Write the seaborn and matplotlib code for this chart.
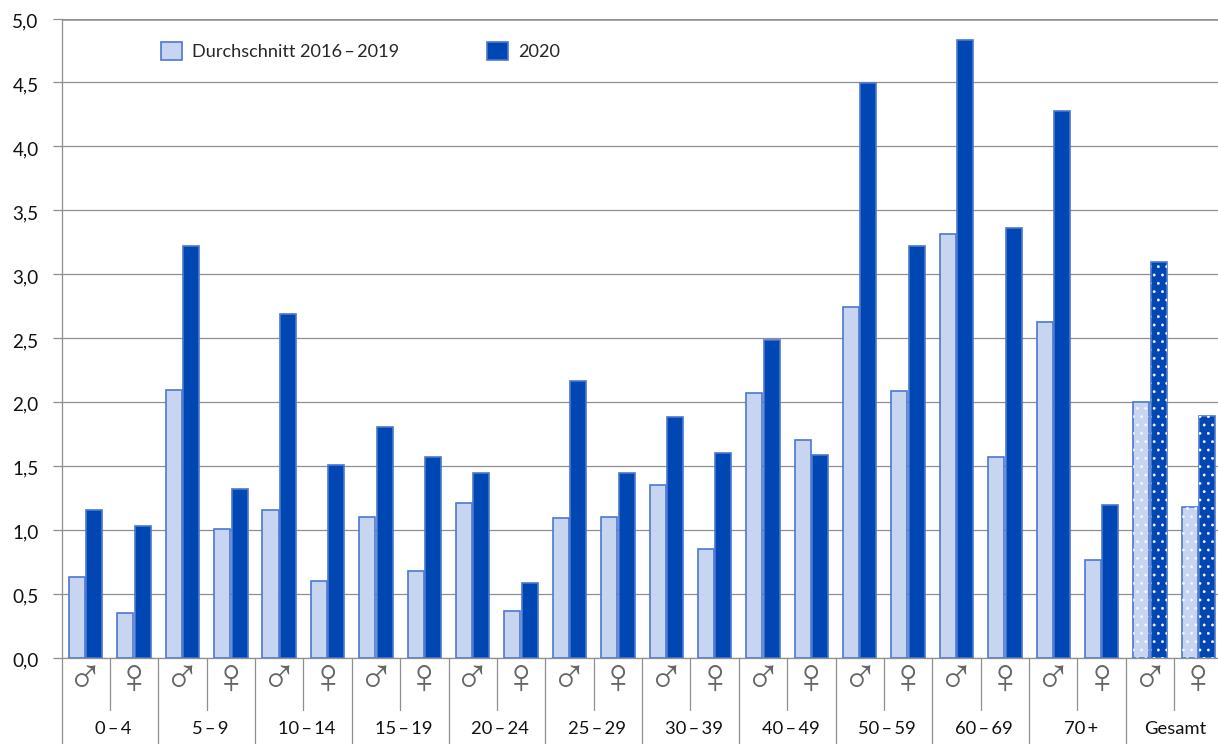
import matplotlib
matplotlib.use("Agg")
import matplotlib.hatch as mhatch
import matplotlib.pyplot as plt
from matplotlib.patches import Rectangle
from matplotlib.transforms import ScaledTranslation, blended_transform_factory
import pandas as pd
import seaborn as sns

age_groups = ["0\u2009\u2013\u20094", "5\u2009\u2013\u20099", "10\u2009\u2013\u200914", "15\u2009\u2013\u200919", "20\u2009\u2013\u200924",
              "25\u2009\u2013\u200929", "30\u2009\u2013\u200939", "40\u2009\u2013\u200949", "50\u2009\u2013\u200959", "60\u2009\u2013\u200969",
              "70\u2009+", "Gesamt"]
sexes = ["\u2642", "\u2640"]
avg_2016_2019 = [0.635, 0.355, 2.095, 1.005, 1.155, 0.605, 1.105, 0.68, 1.21, 0.365, 1.095, 1.105,
                 1.355, 0.85, 2.07, 1.705, 2.745, 2.09, 3.315, 1.57, 2.625, 0.765, 2.005, 1.18]
val_2020 = [1.155, 1.035, 3.22, 1.325, 2.69, 1.51, 1.805, 1.575, 1.445, 0.585, 2.165, 1.445,
            1.885, 1.605, 2.49, 1.585, 4.495, 3.22, 4.83, 3.36, 4.28, 1.20, 3.095, 1.89]
series_names = ["Durchschnitt 2016\u2009\u2013\u20092019", "2020"]
y_ticks = [0, 0.5, 1, 1.5, 2, 2.5, 3, 3.5, 4, 4.5, 5]
y_labels = ["0,0", "0,5", "1,0", "1,5", "2,0", "2,5", "3,0", "3,5", "4,0", "4,5", "5,0"]

LIGHT, DARK, EDGE, GREY = "#c8d5f1", "#0047b3", "#4a78d0", "#8f8f8f"
W, H = 1218, 744
L, B0, T0 = 61.5, 658, 18.5
CAT = 48.38

sns.set_theme(style="white")
plt.rcParams["font.family"] = ["Lato", "DejaVu Sans"]
plt.rcParams["hatch.linewidth"] = 0.3
mhatch.SmallFilledCircles.size = 0.14

keys = [f"{i}{s}" for i in range(len(age_groups)) for s in sexes]
df = pd.DataFrame({"key": keys * 2,
                   "value": avg_2016_2019 + val_2020,
                   "series": [series_names[0]] * 24 + [series_names[1]] * 24})

fig = plt.figure(figsize=(W / 100, H / 100), dpi=100)
ax = fig.add_axes([L / W, 1 - B0 / H, (W - L) / W, (B0 - T0) / H])
sns.barplot(data=df, x="key", y="value", hue="series", hue_order=series_names,
            palette=[LIGHT, DARK], width=0.72, gap=0.08, edgecolor=EDGE, linewidth=1.2,
            saturation=1, ax=ax, zorder=3, errorbar=None)

ax.set_xlim(-0.5, -0.5 + (W - L) / CAT)
ax.set_ylim(0, 5)
ax.set_xlabel("")
ax.set_ylabel("")
ax.set_yticks(y_ticks)
ax.set_yticklabels(y_labels, fontsize=13.6, color="#111111")
ax.tick_params(axis="y", length=6.5, width=0.9, color=GREY, pad=10, left=True)
shift = ScaledTranslation(0, -1.2 / 72, fig.dpi_scale_trans)
for t in ax.get_yticklabels():
    t.set_transform(t.get_transform() + shift)
ax.grid(axis="y", color=GREY, lw=0.9, zorder=0)
ax.set_axisbelow(True)
for side in ["top", "right"]:
    ax.spines[side].set_visible(False)
ax.spines["left"].set_color(GREY)
ax.spines["left"].set_linewidth(0.9)
ax.spines["bottom"].set_color(GREY)
ax.spines["bottom"].set_linewidth(0.9)
ax.axhline(5, color=GREY, lw=1.8, clip_on=True, zorder=1)

# Dotted fill on the "Gesamt" bars
for cont, alpha in zip(ax.containers, [0.8, 1.0]):
    for p in list(cont.patches)[-2:]:
        ax.add_patch(Rectangle(p.get_xy(), p.get_width(), p.get_height(), fill=False,
                               hatch="..", edgecolor="white", lw=0, zorder=3.5, alpha=alpha))

# Two-level category axis
ax.set_xticks(range(24))
ax.set_xticklabels([sexes[i % 2] for i in range(24)], family="Liberation Sans", fontsize=35, color="#666666")
ax.tick_params(axis="x", length=0, pad=0)
trans = blended_transform_factory(ax.transData, ax.transAxes)
px = 1 / (B0 - T0)
for i in range(25):
    bottom = -(H - B0) * px if i % 2 == 0 else -52 * px
    ax.plot([i - 0.5, i - 0.5], [0, bottom], transform=trans, color=GREY,
            lw=0.9, clip_on=False, zorder=1)
for g, label in enumerate(age_groups):
    nudge = 0.07 if g < len(age_groups) - 1 else 0.03
    ax.text(2 * g + 0.5 + nudge, -71 * px, label, transform=trans, ha="center", va="center",
            fontsize=13.2, color="#111111", clip_on=False)

handles, labels = ax.get_legend_handles_labels()
ax.legend(handles, labels, ncols=2, frameon=False, fontsize=13.1, loc="upper left",
          bbox_to_anchor=((161 - L) / (W - L), (B0 - 42) / (B0 - T0)), borderpad=0, borderaxespad=0,
          handlelength=1.15, handleheight=1.15, handletextpad=0.55, columnspacing=4.85)

fig.savefig("out.png", dpi=100)
